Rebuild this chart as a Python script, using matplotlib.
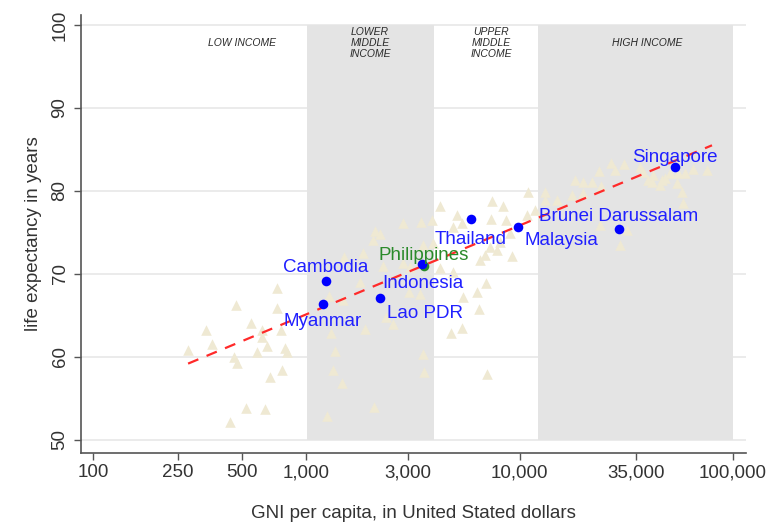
"""
Life expectancy vs GNI per capita, ASEAN countries highlighted
"""

import matplotlib
matplotlib.use("Agg")
import matplotlib.pyplot as plt
import numpy as np

plt.rcParams['font.family'] = ['Liberation Sans', 'DejaVu Sans']

# world countries (beige triangles): GNI per capita (USD), life expectancy
world_gni = [279, 339, 361, 439, 458, 468, 473, 522, 551, 587, 620, 620, 640, 654, 676,
             729, 729, 761, 769, 794, 812, 1278, 1486, 1305, 1363, 1334, 1470, 1250, 1502,
             1785, 1844, 2054, 2099, 2215, 3030, 3412, 6956, 6311, 5428, 6449, 5370, 4769,
             2364, 2550, 1884, 3524, 3562, 7032, 2076, 10950, 7422, 8357, 4234, 5087, 7342,
             8633, 10830, 3883, 3449, 2840, 5370, 4872, 9014, 8091, 3926, 7263, 7834, 6881,
             9211, 3524, 2840, 3063, 4872, 4234, 30860, 26820, 23560, 28000, 18180, 19820,
             21850, 24080, 36670, 37870, 42190, 41740, 46500, 50700, 55280, 59620, 64990,
             75570, 54690, 57720, 58350, 13150, 14970, 19820, 17610, 11810, 13150, 23820,
             31870, 29550, 45500, 39970, 48030, 6520, 2288]
world_le = [60.8, 63.3, 61.6, 52.2, 60.0, 66.3, 59.3, 53.9, 64.1, 60.6, 63.3, 62.4, 53.7, 61.3, 57.6,
            68.3, 65.9, 63.3, 58.4, 61.1, 60.6, 67.3, 66.9, 62.9, 60.7, 58.4, 56.9, 52.9, 72.0,
            69.0, 72.5, 74.1, 75.2, 74.8, 67.8, 67.6, 68.9, 67.8, 67.2, 65.8, 63.5, 62.9,
            64.8, 64.0, 63.4, 60.4, 58.2, 58.0, 54.0, 79.9, 78.8, 78.2, 78.2, 77.1, 76.6,
            76.5, 77.1, 76.5, 76.3, 76.1, 76.1, 75.7, 74.9, 73.9, 73.7, 73.3, 72.9, 72.3,
            72.2, 73.5, 71.3, 70.8, 70.2, 70.7, 83.3, 83.4, 82.4, 82.5, 81.3, 81.1,
            81.1, 80.6, 82.9, 82.3, 81.9, 81.1, 81.3, 82.2, 82.2, 82.2, 82.65,
            82.5, 81.0, 79.9, 78.6, 79.9, 78.9, 79.8, 79.5, 77.7, 78.9, 75.9,
            75.3, 73.5, 80.7, 81.3, 81.6, 71.7, 71.0]

# highlighted countries
countries = ['Singapore', 'Brunei Darussalam', 'Malaysia', 'Thailand', 'Indonesia',
             'Cambodia', 'Myanmar', 'Lao PDR']
country_gni = [53510, 29240, 9830, 5917, 3486, 1237, 1197, 2215]
country_le = [82.9, 75.4, 75.7, 76.6, 71.2, 69.2, 66.4, 67.1]
label_offsets = [(0, 7), (0, 9.4), (31, -10), (0, -14.4), (0.7, -13.7), (0, 9.4), (0, -13), (32.4, -10.8)]

philippines_gni = 3562
philippines_le = 71.0

# fitted trend line (log GNI)
fit_gni = [279, 79800]
fit_le = [59.2, 85.5]

# income group thresholds
band_edges = [1005, 3955, 12235, 100000]
income_labels = ['LOW INCOME', 'LOWER\nMIDDLE\nINCOME', 'UPPER\nMIDDLE\nINCOME', 'HIGH INCOME']
income_label_x = [500, 1990, 7340, 39500]

xticks = [100, 250, 500, 1000, 3000, 10000, 35000, 100000]
yticks = [50, 60, 70, 80, 90, 100]

fig = plt.figure(figsize=(7.68, 5.28), dpi=100)
ax = fig.add_axes([81/768, 1-453/528, (746-81)/768, (453-15)/528])

ax.set_xscale('log')
ax.set_xlim(87.8, 115200)
ax.set_ylim(48.43, 101.2)

for y in yticks:
    ax.axhline(y, color='#e9e9e9', lw=1.3, zorder=0)

# shaded income bands
ax.fill_betweenx([50, 100], band_edges[0], band_edges[1], color='#e4e4e4', lw=0, zorder=1)
ax.fill_betweenx([50, 100], band_edges[2], band_edges[3], color='#e4e4e4', lw=0, zorder=1)

for lbl, xx in zip(income_labels, income_label_x):
    ax.text(xx, 97.8, lbl, ha='center', va='center', fontsize=7.5, style='italic',
            color='#2b2b2b', linespacing=1.12, zorder=2)

ax.scatter(world_gni, world_le, marker='^', s=58, color='#efe9d3', lw=0, zorder=3)
ax.plot(fit_gni, fit_le, color='#ff2a2a', lw=1.6, dashes=(5, 4), zorder=4)

ax.scatter([philippines_gni], [philippines_le], s=48, color='#2a8a2a', lw=0, zorder=5)
ax.scatter(country_gni, country_le, s=48, color='#0000ff', lw=0, zorder=6)

for name, gx, ly, off in zip(countries, country_gni, country_le, label_offsets):
    ax.annotate(name, (gx, ly), xytext=off, textcoords='offset points',
                ha='center', va='center', fontsize=13.5, color='#2020ff', zorder=7)
ax.annotate('Philippines', (philippines_gni, philippines_le), xytext=(0, 7.5),
            textcoords='offset points', ha='center', va='center', fontsize=13.5,
            color='#2a8a2a', zorder=7)

ax.set_xticks(xticks)
ax.set_xticklabels([f"{v:,}" for v in xticks])
ax.xaxis.set_minor_locator(matplotlib.ticker.NullLocator())
ax.set_yticks(yticks)
ax.set_yticklabels([str(v) for v in yticks], rotation=90, va='center')

ax.tick_params(axis='both', direction='out', length=5, width=1, color='#555555',
               labelsize=13.5, labelcolor='#333333')
ax.tick_params(axis='x', pad=3)
ax.tick_params(axis='y', pad=4)

for s in ['top', 'right']:
    ax.spines[s].set_visible(False)
for s in ['left', 'bottom']:
    ax.spines[s].set_color('#555555')
    ax.spines[s].set_linewidth(1.2)

ax.set_xlabel('GNI per capita, in United Stated dollars', fontsize=13.5, color='#333333', labelpad=17)
ax.set_ylabel('life expectancy in years', fontsize=13.5, color='#333333', labelpad=7)

fig.savefig('out.png', dpi=100)
